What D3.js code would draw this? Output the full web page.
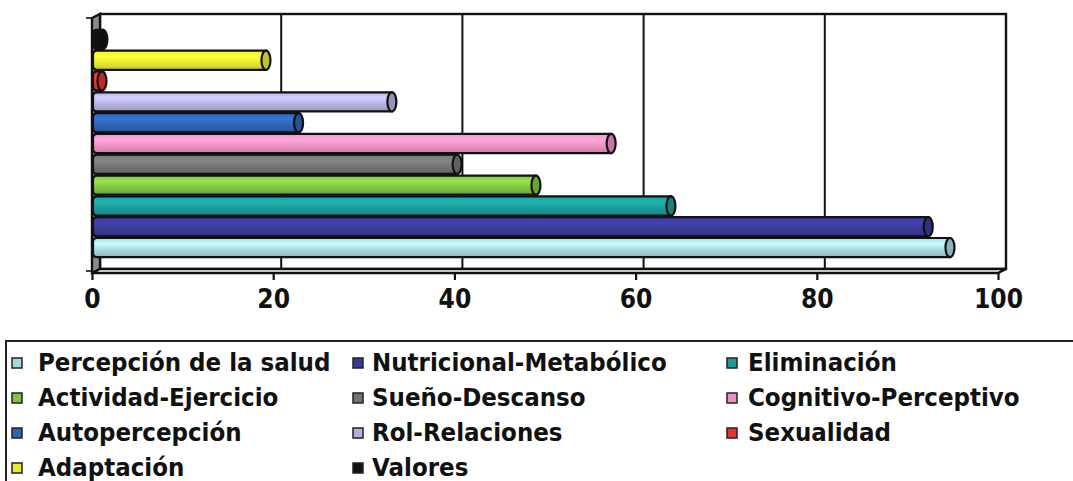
<!DOCTYPE html>
<html>
<head>
<meta charset="utf-8">
<script src="https://cdn.jsdelivr.net/npm/d3@7"></script>
<style>
  html, body { margin: 0; padding: 0; background: #fff; }
  svg { display: block; }
  text { font-family: "DejaVu Sans", Verdana, sans-serif; font-weight: bold; fill: #111; }
</style>
</head>
<body>
<svg id="chart" width="1073" height="481"></svg>
<script>
// Patterns, listed from the bottom bar to the top one
const categories = [
  "Percepción de la salud", "Nutricional-Metabólico", "Eliminación",
  "Actividad-Ejercicio", "Sueño-Descanso", "Cognitivo-Perceptivo",
  "Autopercepción", "Rol-Relaciones", "Sexualidad",
  "Adaptación", "Valores"
];
const values = [94.7, 92.3, 63.9, 49.0, 40.3, 57.3, 22.8, 33.1, 1.1, 19.2, 1.2];
const colors = [
  "#a6d6de", "#393994", "#1b9a98",
  "#80c242", "#737373", "#ee90bf",
  "#2f63b6", "#b1b1dc", "#e2352b",
  "#e8e832", "#111111"
];
const tickValues = [0, 20, 40, 60, 80, 100];

const svg = d3.select("#chart");
const defs = svg.append("defs");

// 3D box: front plane and back plane scales
const depthX = 8, depthY = -4;
const front = { left: 92, right: 998, top: 18, bottom: 273 };
const xFront = d3.scaleLinear().domain([0, 100]).range([front.left, front.right]);
const xBack = d3.scaleLinear().domain([0, 100]).range([front.left + depthX, front.right + depthX]);
const yTopBack = 14, yBottomBack = front.bottom + depthY;

const y = d3.scaleBand()
  .domain(categories)
  .range([258, 29])
  .paddingInner(0.08)
  .paddingOuter(0.04);

const ink = "#111";

// back wall
svg.append("rect")
  .attr("x", xBack(0)).attr("y", yTopBack)
  .attr("width", xBack(100) - xBack(0)).attr("height", yBottomBack - yTopBack)
  .attr("fill", "#fff").attr("stroke", ink).attr("stroke-width", 2.4);

// vertical gridlines on the back wall
svg.append("g").selectAll("line")
  .data(tickValues.slice(1, -1))
  .join("line")
  .attr("x1", d => xBack(d)).attr("x2", d => xBack(d))
  .attr("y1", yTopBack).attr("y2", yBottomBack)
  .attr("stroke", ink).attr("stroke-width", 2);

// left wall
svg.append("path")
  .attr("d", `M${xFront(0)},${front.top} L${xBack(0)},${yTopBack} L${xBack(0)},${yBottomBack} L${xFront(0)},${front.bottom} Z`)
  .attr("fill", "#8a8a8a").attr("stroke", ink).attr("stroke-width", 2.4);

// floor
svg.append("path")
  .attr("d", `M${xFront(0)},${front.bottom} L${xBack(0)},${yBottomBack} L${xBack(100)},${yBottomBack} L${xFront(100)},${front.bottom} Z`)
  .attr("fill", "#fff").attr("stroke", ink).attr("stroke-width", 2.4);

// small category-axis ticks at the ends of the left wall
svg.append("g").selectAll("line")
  .data([front.top, front.bottom - 2])
  .join("line")
  .attr("x1", xFront(0) - 6).attr("x2", xFront(0))
  .attr("y1", d => d).attr("y2", d => d)
  .attr("stroke", ink).attr("stroke-width", 1.6);

// cylinder shading gradients
categories.forEach((c, i) => {
  const base = d3.color(colors[i]);
  const g = defs.append("linearGradient")
    .attr("id", "grad" + i)
    .attr("x1", 0).attr("y1", 0).attr("x2", 0).attr("y2", 1);
  const stops = [
    [0, base.brighter(0.1)],
    [0.3, base.brighter(0.45)],
    [0.65, base],
    [1, base.darker(0.45)]
  ];
  stops.forEach(([o, col]) => g.append("stop").attr("offset", o).attr("stop-color", col.formatHex()));
});

// bars
const barData = categories.map((c, i) => ({ c, v: values[i], i }));
const bars = svg.append("g").selectAll("g").data(barData).join("g");
const r = 4;
bars.append("path")
  .attr("d", d => {
    const x0 = xFront(0) + 1, x1 = xFront(d.v), y0 = y(d.c), h = y.bandwidth();
    return `M${x0 + r},${y0} H${x1} V${y0 + h} H${x0 + r} Q${x0},${y0 + h} ${x0},${y0 + h - r} V${y0 + r} Q${x0},${y0} ${x0 + r},${y0} Z`;
  })
  .attr("fill", d => `url(#grad${d.i})`)
  .attr("stroke", ink).attr("stroke-width", 2.2);
bars.append("ellipse")
  .attr("cx", d => xFront(d.v))
  .attr("cy", d => y(d.c) + y.bandwidth() / 2)
  .attr("rx", 4.5)
  .attr("ry", y.bandwidth() / 2)
  .attr("fill", d => d3.color(colors[d.i]).darker(0.5).formatHex())
  .attr("stroke", ink).attr("stroke-width", 2.2);

// value axis along the front edge of the floor
const axis = svg.append("g")
  .attr("transform", `translate(0,${front.bottom})`)
  .call(d3.axisBottom(xFront).tickValues(tickValues).tickSize(7).tickPadding(8).tickFormat(d3.format("d")));
axis.select(".domain").remove();
axis.selectAll(".tick line").attr("stroke", ink).attr("stroke-width", 2.2);
axis.selectAll(".tick text")
  .attr("font-size", 23.5)
  .attr("font-family", "DejaVu Sans, Verdana, sans-serif")
  .attr("font-weight", "bold")
  .attr("fill", ink)
  .attr("transform", "scale(1,1.1)");

// legend
const legend = svg.append("g");
legend.append("rect")
  .attr("x", 6).attr("y", 341)
  .attr("width", 1100).attr("height", 200)
  .attr("fill", "none").attr("stroke", "#222").attr("stroke-width", 2);

const colSwatchX = [12, 353, 727];
const colTextX = [38, 372, 748];
const rowBase = [371, 406, 441, 476];
const items = legend.selectAll("g.item").data(barData).join("g")
  .attr("class", "item")
  .attr("transform", d => `translate(0,${rowBase[Math.floor(d.i / 3)]})`);
items.append("rect")
  .attr("x", d => colSwatchX[d.i % 3]).attr("y", -13)
  .attr("width", 10).attr("height", 10)
  .attr("fill", d => colors[d.i])
  .attr("stroke", "#222").attr("stroke-width", 1.5);
items.append("text")
  .attr("transform", d => `translate(${colTextX[d.i % 3]},0) scale(1,1.08)`)
  .attr("font-size", 23)
  .text(d => d.c);
</script>
</body>
</html>
